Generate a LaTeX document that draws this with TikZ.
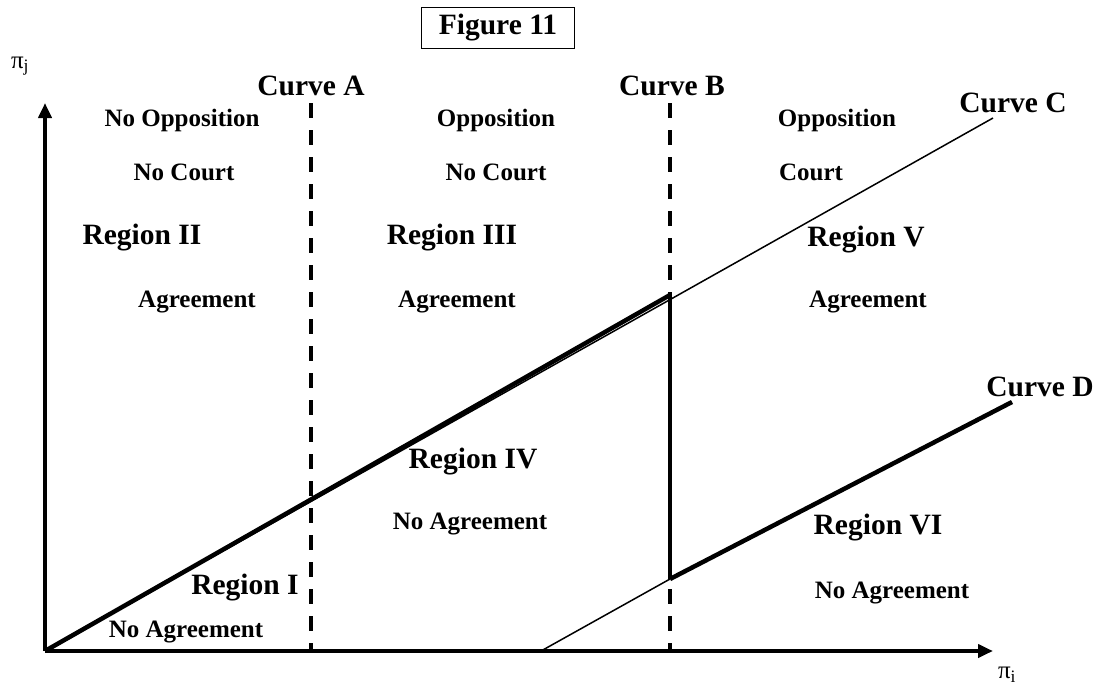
\documentclass[tikz,border=0pt]{standalone}
\usepackage{fontspec}
\setmainfont{Liberation Serif}
\usetikzlibrary{arrows.meta}
\begin{document}
\begin{tikzpicture}[x=1pt, y=-1pt, >={Triangle[length=15pt,width=13pt]},
    small/.style={font=\fontsize{25}{28}\selectfont\bfseries},
    big/.style={font=\fontsize{29.5}{32}\selectfont\bfseries},
    axislbl/.style={font=\fontsize{25}{28}\selectfont},
    cut/.style={line width=4pt, dash pattern=on 15pt off 12pt}]
    \useasboundingbox (0,0) rectangle (1111,688);
    % points of the axes and the curves
    \coordinate (O) at (45,651);
    \coordinate (xend) at (993,651);
    \coordinate (yend) at (45,103);
    \coordinate (Atop) at (311,103);
    \coordinate (Abot) at (311,651);
    \coordinate (Btop) at (670,103);
    \coordinate (Bbot) at (670,651);
    \coordinate (CB) at (670,295);
    \coordinate (Cend) at (993,118);
    \coordinate (Dstart) at (541,651);
    \coordinate (DB) at (670,579);
    \coordinate (Dend) at (1012,402);
    \node[big, draw, line width=1pt, minimum width=153pt, minimum height=41pt] (fig) at (498,28) {Figure 11};
    % axes
    \draw [->, line width=4pt] (O) -- (xend);
    \draw [->, line width=4pt] (O) -- (yend);
    \node[axislbl] (pj) at (20,66) {π\textsubscript{j}};
    \node[axislbl] (pi) at (1007,675) {π\textsubscript{i}};
    % curves
    \draw [cut] (Atop) -- (Abot);
    \draw [cut] (Btop) -- (Bbot);
    \draw [line width=1.5pt] (O) -- (Cend);
    \draw [line width=4.5pt] (O) -- (CB);
    \draw [line width=4pt] (CB) -- (DB);
    \draw [line width=1.5pt] (Dstart) -- (DB);
    \draw [line width=4.5pt] (DB) -- (Dend);
    \node[big] (cA) at (311,86) {Curve A};
    \node[big] (cB) at (672,86) {Curve B};
    \node[big] (cC) at (1013,103) {Curve C};
    \node[big] (cD) at (1040,387) {Curve D};
    % regions
    \node[small] (opp1) at (182,120) {No Opposition};
    \node[small] (crt1) at (184,172) {No Court};
    \node[big] (r2) at (142,238) {Region II};
    \node[small] (agr2) at (197,302) {Agreement};
    \node[small] (opp3) at (496,120) {Opposition};
    \node[small] (crt3) at (496,172) {No Court};
    \node[big] (r3) at (452,238) {Region III};
    \node[small] (agr3) at (457,302) {Agreement};
    \node[small] (opp5) at (837,120) {Opposition};
    \node[small] (crt5) at (811,172) {Court};
    \node[big] (r5) at (866,240) {Region V};
    \node[small] (agr5) at (868,302) {Agreement};
    \node[big] (r4) at (473,462) {Region IV};
    \node[small] (nag4) at (470,524) {No Agreement};
    \node[big] (r1) at (245,588) {Region I};
    \node[small] (nag1) at (186,632) {No Agreement};
    \node[big] (r6) at (878,528) {Region VI};
    \node[small] (nag6) at (892,593) {No Agreement};
\end{tikzpicture}
\end{document}
